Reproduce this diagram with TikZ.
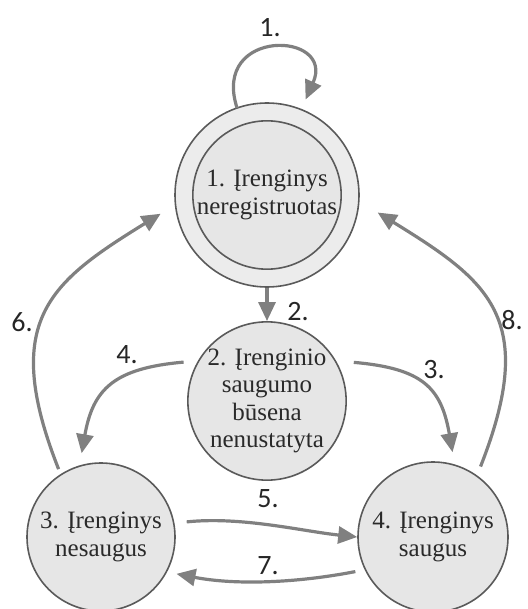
\documentclass[tikz,border=0pt]{standalone}
\usepackage{fontspec}
\setmainfont{Liberation Serif}
\newfontfamily\labelfont{Carlito}
\usetikzlibrary{arrows.meta,calc}

\definecolor{nodefill}{HTML}{E6E6E6}
\definecolor{ringfill}{HTML}{ECECEC}
\definecolor{nodeline}{HTML}{5A5A5A}
\definecolor{arrowgray}{HTML}{808080}
\definecolor{textgray}{HTML}{2A2A2A}

\tikzset{
  state/.style={circle, draw=nodeline, line width=1.6pt, fill=nodefill,
    inner sep=0pt, align=center, text=textgray,
    font=\fontsize{25}{27.5}\selectfont},
  trans/.style={draw=arrowgray, line width=3.2pt,
    -{Triangle[length=19pt,width=17pt]}},
  steplabel/.style={text=black!85, font=\labelfont\fontsize{28}{30}\selectfont}
}

% y grows downwards, so polar angles below are measured clockwise
\begin{document}
\begin{tikzpicture}[x=1pt,y=-1pt]
  \useasboundingbox (0,0) rectangle (527,609);

  % states
  \node[state, minimum size=184pt, fill=ringfill] (n1) at (267,195) {};
  \node[state, minimum size=148pt] (n1in) at (n1.center)
    {1. Įrenginys\\neregistruotas};
  \node[state, minimum size=150pt] (n2) at (267,401)
    {2. Įrenginio\\saugumo\\būsena\\nenustatyta};
  \node[state, minimum size=148pt] (n3) at (101,537)
    {3. Įrenginys\\nesaugus};
  \node[state, minimum size=150pt] (n4) at (433,537)
    {4. Įrenginys\\saugus};

  % transitions
  \draw[trans] ($(n1.center)+(-109:92)$)
    .. controls +(-108:85) and +(-66:75) .. ($(n1.center)+(-68:103)$);
  \draw[trans] (n1.south) -- (n2.north);
  \draw[trans] ($(n2.center)+(-24:95)$)
    .. controls +(5:70) and +(-100:65) .. ($(n4.center)+(-77:87)$);
  \draw[trans] ($(n2.center)+(-155:92)$)
    .. controls +(-185:70) and +(-80:65) .. ($(n3.center)+(-103:86)$);
  \draw[trans] ($(n3.center)+(-10:87)$)
    .. controls +(-6:55) and +(-174:55) .. (n4.west);
  \draw[trans] ($(n3.center)+(-122:80)$)
    .. controls +(-111.5:160) and +(-211.7:130) .. ($(n1.center)+(-190:108)$);
  \draw[trans] ($(n4.center)+(-204:85)$)
    .. controls +(-191:60) and +(11:60) .. ($(n3.center)+(26:84)$);
  \draw[trans] ($(n4.center)+(-56:85)$)
    .. controls +(-68.5:160) and +(31.7:130) .. ($(n1.center)+(9:112)$);

  % transition numbers
  \node[steplabel] (l1) at (270,28) {1.};
  \node[steplabel] (l2) at (298,312) {2.};
  \node[steplabel] (l3) at (434,370) {3.};
  \node[steplabel] (l4) at (127,355) {4.};
  \node[steplabel] (l5) at (268,499) {5.};
  \node[steplabel] (l6) at (22,322) {6.};
  \node[steplabel] (l7) at (268,566) {7.};
  \node[steplabel] (l8) at (512,320) {8.};
\end{tikzpicture}
\end{document}
